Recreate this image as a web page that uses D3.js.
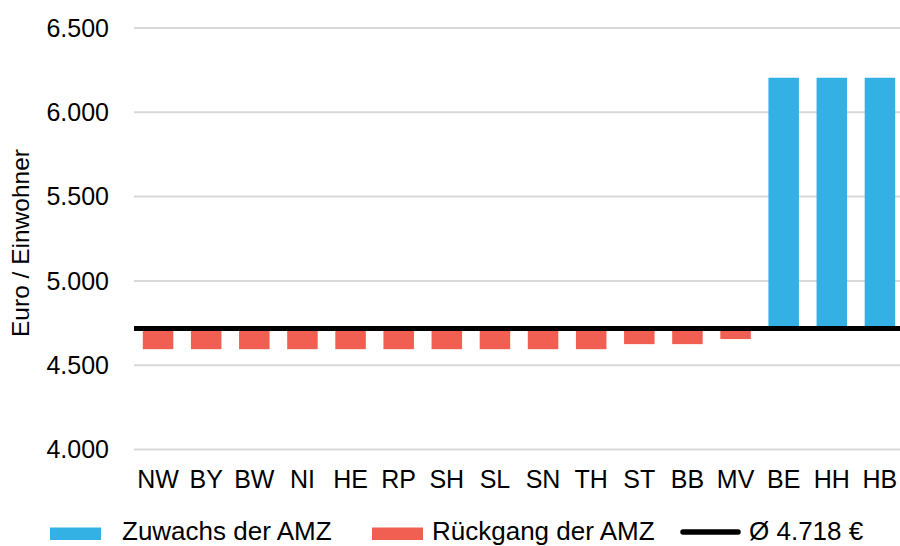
<!DOCTYPE html>
<html><head><meta charset="utf-8">
<script src="https://cdn.jsdelivr.net/npm/d3@7/dist/d3.min.js"></script>
<style>body{margin:0;background:#fff}svg{display:block}text{font-family:"Liberation Sans",Arial,sans-serif;fill:#000}</style>
</head><body>
<script>
const categories = ["NW","BY","BW","NI","HE","RP","SH","SL","SN","TH","ST","BB","MV","BE","HH","HB"];
const values = [4595,4595,4595,4595,4595,4595,4595,4595,4595,4595,4625,4625,4655,6205,6205,6205];
const average = 4718;
const yTicks = [4000,4500,5000,5500,6000,6500];
const legendLabels = ["Zuwachs der AMZ","Rückgang der AMZ","Ø 4.718 €"];
const colors = {up:"#33B1E4", down:"#F15F53", avg:"#000000", grid:"#D9D9D9"};

const W=900,H=546;
const svg=d3.select("body").append("svg").attr("width",W).attr("height",H);
const x=d3.scaleBand().domain(categories).range([134,904]).paddingInner(0.366).paddingOuter(0.183);
const y=d3.scaleLinear().domain([4000,6500]).range([449.5,28]);
const fmt=d3.formatLocale({decimal:",",thousands:".",grouping:[3],currency:["","€"]}).format(",");

// grid
svg.append("g").selectAll("line").data(yTicks).join("line")
  .attr("x1",134).attr("x2",900).attr("y1",d=>y(d)).attr("y2",d=>y(d))
  .attr("stroke",colors.grid).attr("stroke-width",2);
// y tick labels
svg.append("g").selectAll("text").data(yTicks).join("text")
  .attr("x",109).attr("y",d=>y(d)).attr("dy","0.35em").attr("text-anchor","end")
  .style("font-size","25px").text(d=>fmt(d));
// y title
svg.append("text").attr("transform","translate(29,243) rotate(-90)").attr("text-anchor","middle")
  .style("font-size","24.5px").text("Euro / Einwohner");
// bars
svg.append("g").selectAll("rect").data(categories.map((c,i)=>({c,v:values[i]}))).join("rect")
  .attr("x",d=>x(d.c)).attr("width",x.bandwidth())
  .attr("y",d=>y(Math.max(d.v,average))).attr("height",d=>Math.abs(y(d.v)-y(average)))
  .attr("fill",d=>d.v>=average?colors.up:colors.down);
// average line
svg.append("line").attr("x1",134).attr("x2",900).attr("y1",y(average)).attr("y2",y(average))
  .attr("stroke",colors.avg).attr("stroke-width",5);
// x labels
svg.append("g").selectAll("text").data(categories).join("text")
  .attr("x",d=>x(d)+x.bandwidth()/2).attr("y",487.5).attr("text-anchor","middle")
  .style("font-size","25px").text(d=>d);
// legend
const lg=svg.append("g");
lg.append("rect").attr("x",50).attr("y",527.5).attr("width",51).attr("height",12.5).attr("fill",colors.up);
lg.append("text").attr("x",122).attr("y",540).style("font-size","26px").text(legendLabels[0]);
lg.append("rect").attr("x",372).attr("y",527.5).attr("width",51).attr("height",12.5).attr("fill",colors.down);
lg.append("text").attr("x",432).attr("y",540).style("font-size","26px").text(legendLabels[1]);
lg.append("line").attr("x1",683).attr("x2",738).attr("y1",532).attr("y2",532).attr("stroke",colors.avg).attr("stroke-width",5.5).attr("stroke-linecap","round");
lg.append("text").attr("x",749).attr("y",540).style("font-size","26px").text(legendLabels[2]);
</script>
</body></html>
